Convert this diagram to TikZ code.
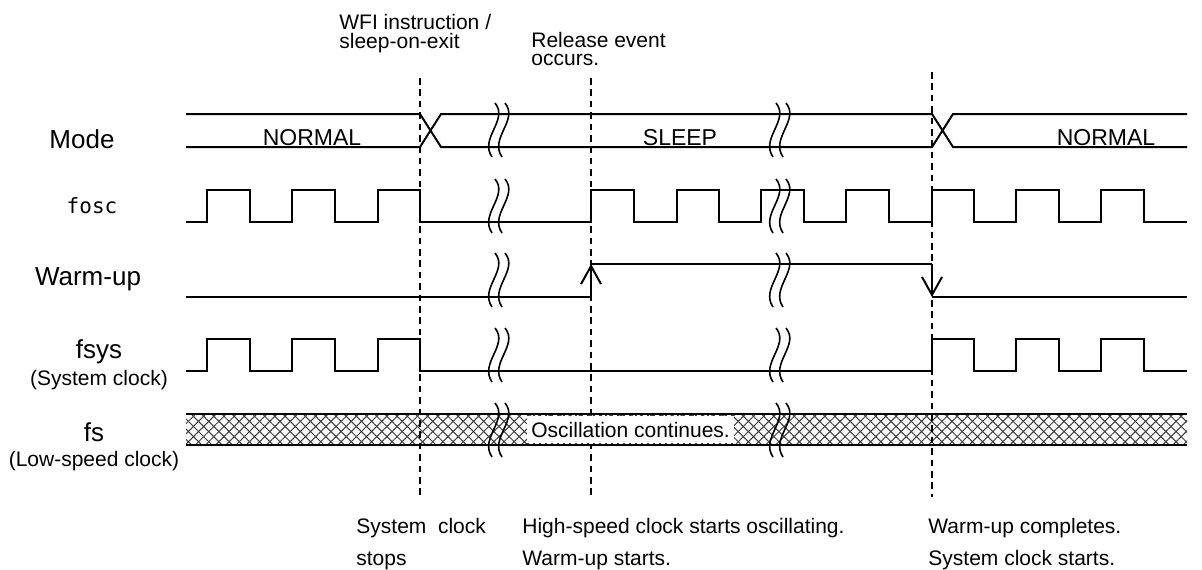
\documentclass[tikz,border=0pt]{standalone}
\usepackage{fontspec}
\setmainfont{Liberation Sans}
\newfontfamily\monofnt{DejaVu Sans Mono}
\usepackage{tikz}
\usetikzlibrary{arrows.meta,patterns.meta,positioning,calc}
\definecolor{sigC}{HTML}{000000}
\definecolor{hatchC}{HTML}{3A3A3A}
\definecolor{markC}{HTML}{000000}
\newcommand{\lblWfiA}{WFI instruction /}
\newcommand{\lblWfiB}{sleep-on-exit}
\newcommand{\lblRelA}{Release event}
\newcommand{\lblRelB}{occurs.}
\newcommand{\lblStopA}{System~~clock}
\newcommand{\lblStopB}{stops}
\newcommand{\lblOscA}{High-speed clock starts oscillating.}
\newcommand{\lblOscB}{Warm-up starts.}
\newcommand{\lblDoneA}{Warm-up completes.}
\newcommand{\lblDoneB}{System clock starts.}
\newcommand{\lblCont}{Oscillation continues.}

\begin{document}
\begin{tikzpicture}[
  x=0.5pt, y=-0.5pt,
  font=\fontsize{10.5}{12}\selectfont,
  sig/.style    ={draw=sigC, line width=1pt},
  marker/.style ={draw=markC, line width=0.7pt, dash pattern=on 3.3pt off 2.4pt},
  brk/.style    ={draw=sigC, line width=0.8pt},
  edgearr/.style={sig, -{Straight Barb[length=9pt, width=10pt, line width=1pt]}},
  signame/.style={font=\fontsize{13}{15}\selectfont, inner sep=0pt, anchor=base},
  sigsub/.style ={font=\fontsize{10.5}{12}\selectfont, inner sep=0pt, anchor=base},
  modetxt/.style={font=\fontsize{11.5}{13}\selectfont, inner sep=0pt, anchor=base},
  note/.style   ={inner sep=0pt, anchor=base west},
  osc/.style    ={fill=white, inner xsep=2pt, inner ysep=0pt, minimum height=14pt,
                  anchor=west},
  hatch/.style  ={pattern={Lines[angle=#1, distance=3.6pt, line width=0.5pt]},
                  pattern color=hatchC},
  brkmark/.pic  ={
    \draw[brk] (-4,-27) .. controls (10,-10) and (-20,8) .. (-7,27);
    \draw[brk] (6,-27) .. controls (20,-10) and (-10,8) .. (3,27);
  },
]
\useasboundingbox (0,0) rectangle (1202,569);

% ---- geometry --------------------------------------------------------------
\def\xA{186}  \def\xE{1187}                 % signal span
\def\tW{420}  \def\tR{591}  \def\tC{932}    % event markers
\def\bA{499}  \def\bB{780}                  % time breaks
\def\modeH{114} \def\modeL{147}
\def\foscH{190} \def\foscL{222}
\def\wuH{264}   \def\wuL{297}
\def\fsysH{339} \def\fsysL{371}
\def\fsH{414}   \def\fsL{445}

% ---- signal names ----------------------------------------------------------
\node[signame] (nMode) at (82,148) {Mode};
\node[signame, font=\monofnt\fontsize{10.5}{12}\selectfont] (nFosc) at (92,213) {fosc};
\node[signame] (nWu)   at (88,285) {Warm-up};
\node[signame] (nFsys) at (99,358) {fsys};
\node[sigsub]  (nFsysB) at (99,385) {(System clock)};
\node[signame] (nFs)   at (94,441) {fs};
\node[sigsub]  (nFsB)  at (94,466) {(Low-speed clock)};

% ---- fs: low-speed clock keeps running (hatched) ---------------------------
\fill[hatch=45]  (\xA,\fsH) rectangle (\xE,\fsL);
\fill[hatch=-45] (\xA,\fsH) rectangle (\xE,\fsL);

% ---- event markers ---------------------------------------------------------
\coordinate (wTop) at (\tW,78);  \coordinate (wBot) at (\tW,497);
\coordinate (rTop) at (\tR,78);  \coordinate (rBot) at (\tR,497);
\coordinate (cTop) at (\tC,72);  \coordinate (cBot) at (\tC,497);
\draw[marker] (wTop) -- (wBot);
\draw[marker] (rTop) -- (rBot);
\draw[marker] (cTop) -- (cBot);

% ---- Mode ------------------------------------------------------------------
\draw[sig] (\xA,\modeH) -- (\tW,\modeH) -- (\tW+21,\modeL) -- (\tC,\modeL)
           -- (\tC+21,\modeH) -- (\xE,\modeH);
\draw[sig] (\xA,\modeL) -- (\tW,\modeL) -- (\tW+21,\modeH) -- (\tC,\modeH)
           -- (\tC+21,\modeL) -- (\xE,\modeL);
\node[modetxt] (sNorm1) at (312,145)  {NORMAL};
\node[modetxt] (sSleep) at (680,145)  {SLEEP};
\node[modetxt] (sNorm2) at (1106,145) {NORMAL};

% ---- fosc ------------------------------------------------------------------
\draw[sig] (\xA,\foscL)
  \foreach \u/\d in {207/250, 292/335, 378/\tW, \tR/634, 677/719, 761/804,
                     846/889, \tC/974, 1016/1059, 1101/1144}
    { -| (\u,\foscH) -| (\d,\foscL) }
  -- (\xE,\foscL);

% ---- Warm-up ---------------------------------------------------------------
\draw[sig]     (\xA,\wuL) -- (\tR,\wuL);
\draw[edgearr] (\tR,\wuL) -- (\tR,\wuH);
\draw[sig]     (\tR,\wuH) -- (\tC,\wuH);
\draw[edgearr] (\tC,\wuH) -- (\tC,\wuL);
\draw[sig]     (\tC,\wuL) -- (\xE,\wuL);

% ---- fsys ------------------------------------------------------------------
\draw[sig] (\xA,\fsysL)
  \foreach \u/\d in {207/250, 292/335, 378/\tW, \tC/974, 1016/1059, 1101/1144}
    { -| (\u,\fsysH) -| (\d,\fsysL) }
  -- (\xE,\fsysL);

% ---- fs band edges and note ------------------------------------------------
\draw[sig] (\xA,\fsH) -- (\xE,\fsH);
\draw[sig] (\xA,\fsL) -- (\xE,\fsL);
\node[osc] (cont) at (527,{(\fsH+\fsL)/2}) {\lblCont};
\draw[hatchC, line width=0.5pt, dash pattern=on 1pt off 2pt]
  (cont.north west) -- (cont.north east)
  (cont.south west) -- (cont.south east);

% ---- time breaks -----------------------------------------------------------
\foreach \yy in {130, 206, 280, 355, 430} {
  \pic at (\bA,\yy) {brkmark};
  \pic at (\bB,\yy) {brkmark};
}

% ---- event texts -----------------------------------------------------------
\node[note] (wfiA) at (339,29) {\lblWfiA};
\node[note] (wfiB) at (339,48) {\lblWfiB};
\node[note] (relA) at (531,47) {\lblRelA};
\node[note] (relB) at (531,65) {\lblRelB};

\node[note] (stopA) at (356,533) {\lblStopA};
\node[note] (stopB) at (356,565) {\lblStopB};
\node[note] (oscA)  at (522,533) {\lblOscA};
\node[note] (oscB)  at (522,565) {\lblOscB};
\node[note] (doneA) at (928,533) {\lblDoneA};
\node[note] (doneB) at (928,565) {\lblDoneB};

\end{tikzpicture}
\end{document}
